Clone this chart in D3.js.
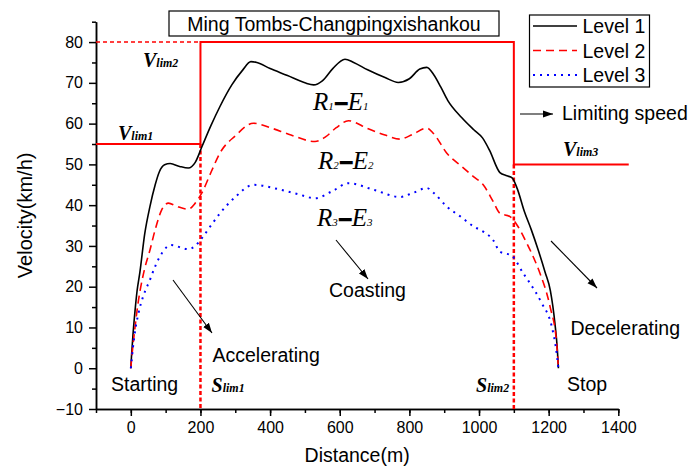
<!DOCTYPE html>
<meta charset="utf-8">
<style>
body { margin: 0; background: #fff; }
svg text { font-family: "Liberation Sans", Arial, sans-serif; }
.serif { font-family: "Liberation Serif", "Times New Roman", serif !important; }
.axis path, .axis line { stroke: #000; stroke-width: 1.5px; }
.axis text { font-size: 16px; fill: #000; }
</style>
<body>
<svg id="chart" width="689" height="473"></svg>
<script src="https://d3js.org/d3.v7.min.js"></script>
<script>
// distance (m) / velocity (km/h)
var level1 = [[0,0],[2,3],[6,8],[12,14],[18,19],[26,23.5],[40,33],[55,39.7],[70,45],[82,48.2],[97,49.9],[113,50.2],[140,49.5],[165,49.1],[185,50.5],[205,54.5],[230,59.5],[256,64.2],[290,69.5],[320,73],[345,75.2],[362,75],[400,73.5],[450,71.8],[500,70],[525,69.5],[550,70.5],[580,73.5],[615,75.8],[640,75],[680,73.2],[730,71.3],[768,70.1],[800,71],[830,73.4],[850,73.8],[870,72],[890,69],[910,65.7],[950,61.5],[985,58.5],[1010,56.5],[1030,53.5],[1060,48],[1080,47.2],[1095,46.7],[1110,44],[1130,38.5],[1150,34],[1170,29],[1190,23.5],[1205,19],[1218,11],[1225,4.5],[1228,0]];
var level2 = [[0,0],[3,3],[6,5.5],[12,10],[20,15.5],[27,19.2],[40,24.5],[55,29],[70,34],[89,38.9],[108,40.5],[130,39.8],[165,39],[185,40.5],[204,43],[230,48],[256,52.8],[300,57],[352,60.1],[400,59],[460,57.2],[529,55.6],[560,56.8],[590,59],[625,60.7],[680,58.8],[730,57.2],[773,56.2],[810,57.4],[850,58.9],[870,57.5],[907,52.8],[950,49.5],[984,47],[1012,45],[1040,41],[1060,38],[1089,37.2],[1110,35],[1137,30.7],[1160,26.5],[1175,23.3],[1204,15.1],[1223,6.1],[1228,0]];
var level3 = [[0,0],[3,2.5],[6,5],[12,9],[22,13.5],[35,17.5],[55,21.7],[70,25],[89,28.2],[115,30.2],[165,29.2],[185,30],[204,31.9],[230,35],[256,38],[300,42],[352,45],[420,44],[480,42.7],[529,41.7],[580,43.5],[625,45.4],[700,43.7],[773,42],[810,43],[850,44.2],[870,43],[907,39.7],[950,37],[984,34.8],[1012,33.5],[1040,31.5],[1060,28.6],[1094,27.6],[1127,23.3],[1146,20.9],[1180,16],[1209,10.2],[1221,4.9],[1228,0]];

// speed limit profile
var limitDist  = [-100, 200, 200, 1100, 1100, 1430];
var limitSpeed = [55, 55, 80, 80, 50, 50];
var sLim = [200, 1100];

var seriesNames = ["Level 1", "Level 2", "Level 3"];
var xTicks = [0, 200, 400, 600, 800, 1000, 1200, 1400];
var yTicks = [-10, 0, 10, 20, 30, 40, 50, 60, 70, 80];

var svg = d3.select("#chart");
var x = d3.scaleLinear().domain([-100, 1400]).range([96, 618.3]);
var y = d3.scaleLinear().domain([-10, 85]).range([409, 21.7]);

// axes
var xMinor = d3.range(-100, 1401, 100);
var yMinor = d3.range(-5, 86, 10);

svg.append("g").attr("class", "axis").attr("transform", "translate(0," + y(-10) + ")")
  .call(d3.axisBottom(x).tickValues(xMinor).tickSize(4).tickFormat("").tickSizeOuter(0));
svg.append("g").attr("class", "axis").attr("transform", "translate(0," + y(-10) + ")")
  .call(d3.axisBottom(x).tickValues(xTicks).tickSize(7).tickPadding(6).tickSizeOuter(0).tickFormat(d3.format("d")));
svg.append("g").attr("class", "axis").attr("transform", "translate(" + x(-100) + ",0)")
  .call(d3.axisLeft(y).tickValues(yMinor).tickSize(4).tickFormat("").tickSizeOuter(0));
svg.append("g").attr("class", "axis").attr("transform", "translate(" + x(-100) + ",0)")
  .call(d3.axisLeft(y).tickValues(yTicks).tickSize(7).tickPadding(6).tickSizeOuter(0));

svg.append("text").attr("x", (x(-100) + x(1400)) / 2).attr("y", 462)
  .attr("text-anchor", "middle").style("font-size", "19.5px").text("Distance(m)");
svg.append("text").attr("transform", "translate(32," + ((y(-10) + y(85)) / 2) + ") rotate(-90)")
  .attr("text-anchor", "middle").style("font-size", "20px").text("Velocity(km/h)");

// speed limit lines
var limitPts = limitDist.map(function(d, i) { return [d, limitSpeed[i]]; });
var line = d3.line().x(function(d) { return x(d[0]); }).y(function(d) { return y(d[1]); });
svg.append("path").datum(limitPts).attr("d", line)
  .attr("fill", "none").attr("stroke", "#ff0000").attr("stroke-width", 2);
svg.append("path").datum([[-100, 80], [200, 80]]).attr("d", line)
  .attr("fill", "none").attr("stroke", "#ff0000").attr("stroke-width", 1.5).attr("stroke-dasharray", "4,3");
svg.append("path").datum([[sLim[0], 55], [sLim[0], -10]]).attr("d", line)
  .attr("fill", "none").attr("stroke", "#ff0000").attr("stroke-width", 2.5).attr("stroke-dasharray", "4,2.5");
svg.append("path").datum([[sLim[1], 50], [sLim[1], -10]]).attr("d", line)
  .attr("fill", "none").attr("stroke", "#ff0000").attr("stroke-width", 2.5).attr("stroke-dasharray", "4,2.5");

// curves
var curve = d3.line().x(function(d) { return x(d[0]); }).y(function(d) { return y(d[1]); })
  .curve(d3.curveMonotoneX);
var styles = [
  { data: level1, color: "#000", dash: null, w: 1.6 },
  { data: level2, color: "#ff0000", dash: "8,5", w: 1.6 },
  { data: level3, color: "#0000ff", dash: "2,5", w: 2 }
];
styles.forEach(function(s) {
  svg.append("path").datum(s.data).attr("d", curve)
    .attr("fill", "none").attr("stroke", s.color).attr("stroke-width", s.w)
    .attr("stroke-dasharray", s.dash);
});

// title box
svg.append("rect").attr("x", 169).attr("y", 11).attr("width", 330).attr("height", 25)
  .attr("fill", "#fff").attr("stroke", "#000").attr("stroke-width", 1.2);
svg.append("text").attr("x", 334).attr("y", 31).attr("text-anchor", "middle")
  .style("font-size", "19.5px").text("Ming Tombs-Changpingxishankou");

// legend
svg.append("rect").attr("x", 529.5).attr("y", 15).attr("width", 120).attr("height", 72)
  .attr("fill", "#fff").attr("stroke", "#000").attr("stroke-width", 1.2);
styles.forEach(function(s, i) {
  var ly = 26 + i * 24.5;
  svg.append("line").attr("x1", 533).attr("x2", 577).attr("y1", ly).attr("y2", ly)
    .attr("stroke", s.color).attr("stroke-width", s.w).attr("stroke-dasharray", s.dash);
  svg.append("text").attr("x", 582.5).attr("y", ly + 7).style("font-size", "19.5px").text(seriesNames[i]);
});

// arrows
svg.append("defs").append("marker").attr("id", "head")
  .attr("viewBox", "0 0 10 10").attr("refX", 10).attr("refY", 5)
  .attr("markerWidth", 10).attr("markerHeight", 10).attr("markerUnits", "userSpaceOnUse")
  .attr("orient", "auto")
  .append("path").attr("d", "M0,1.5 L10,5 L0,8.5 Z").attr("fill", "#000");
var arrows = [[520, 114, 553, 114], [173, 280, 212, 333], [336, 240, 368, 279], [551, 241, 597, 288]];
arrows.forEach(function(a) {
  svg.append("line").attr("x1", a[0]).attr("y1", a[1]).attr("x2", a[2]).attr("y2", a[3])
    .attr("stroke", "#000").attr("stroke-width", 1.1).attr("marker-end", "url(#head)");
});

// plain labels
var labels = [
  ["Limiting speed", 562, 119.5], ["Coasting", 329, 297], ["Accelerating", 212.5, 361.5],
  ["Decelerating", 570.5, 335], ["Starting", 111, 391], ["Stop", 567, 391]
];
labels.forEach(function(l) {
  svg.append("text").attr("x", l[1]).attr("y", l[2]).style("font-size", "19.5px").text(l[0]);
});

// V_lim / S_lim labels
var limLabels = [["V", "lim1", 118, 140], ["V", "lim2", 143, 67], ["V", "lim3", 563, 156],
                 ["S", "lim1", 211.5, 392], ["S", "lim2", 476, 392]];
limLabels.forEach(function(l) {
  var t = svg.append("text").attr("class", "serif").attr("x", l[2]).attr("y", l[3])
    .style("font-weight", "bold").style("font-style", "italic");
  t.append("tspan").style("font-size", "20px").text(l[0]);
  t.append("tspan").style("font-size", "12px").text(l[1]);
});

// R-E labels
var reLabels = [["1", 313, 110], ["2", 318, 169], ["3", 317, 226]];
reLabels.forEach(function(l) {
  var t = svg.append("text").attr("class", "serif").attr("x", l[1]).attr("y", l[2])
    .style("font-style", "italic");
  t.append("tspan").style("font-size", "25px").text("R");
  t.append("tspan").style("font-size", "11px").text(l[0]);
  t.append("tspan").attr("dx", 2).attr("dy", -1).style("font-size", "22px").style("font-style", "normal")
    .style("font-weight", "bold").attr("stroke", "#000").attr("stroke-width", 1.6).text("–");
  t.append("tspan").attr("dx", 1).attr("dy", 1).style("font-size", "25px").text("E");
  t.append("tspan").style("font-size", "11px").text(l[0]);
});
</script>
</body>
